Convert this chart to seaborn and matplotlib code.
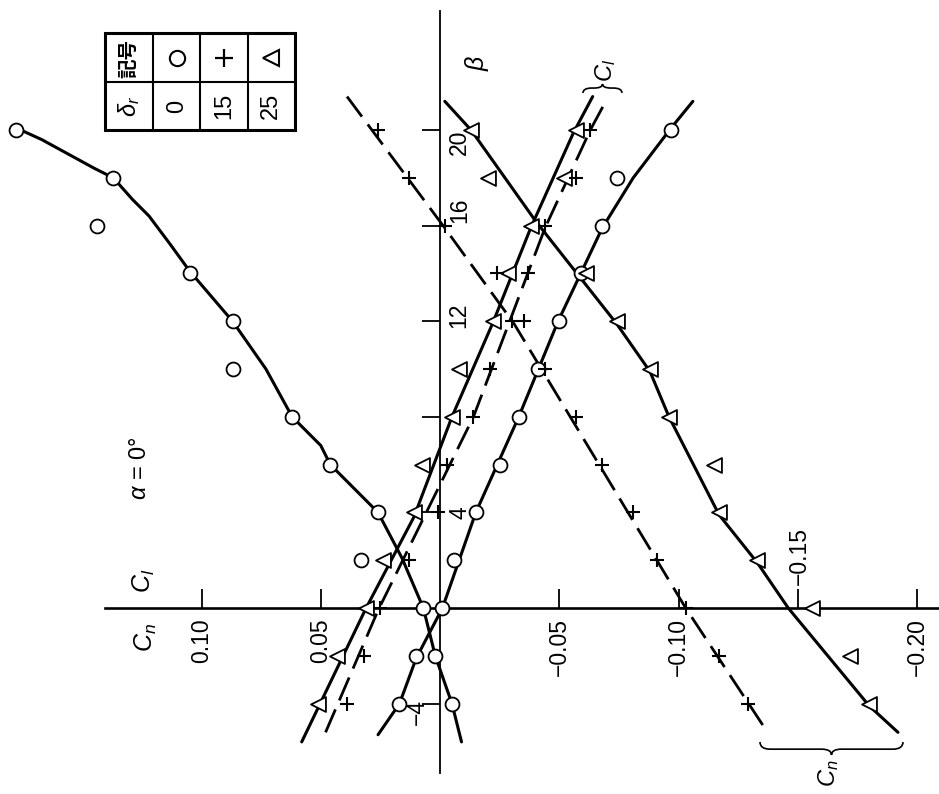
import matplotlib
matplotlib.use("Agg")
import matplotlib.pyplot as plt
import matplotlib.transforms as mtransforms
from matplotlib.path import Path
from matplotlib.patches import PathPatch, Rectangle
import seaborn as sns

# ---------------- measured points ----------------
# sideslip angle beta (deg) and yawing / rolling moment coefficients
beta_o = [-4, -2, 0, 2, 4, 6, 8, 10, 12, 14, 16, 18, 20]
cn_o = [-0.005, 0.002, 0.007, 0.033, 0.026, 0.046, 0.062, 0.087, 0.087, 0.105, 0.144, 0.137, 0.178]
cl_o = [0.017, 0.010, -0.001, -0.006, -0.015, -0.025, -0.033, -0.041, -0.050, -0.059, -0.068, -0.074, -0.097]

beta_p = [-4, -2, 0, 2, 4, 6, 8, 10, 12, 14, 16, 18, 20]
cn_p = [-0.129, -0.117, -0.103, -0.091, -0.081, -0.068, -0.057, -0.044, -0.030, -0.024, -0.002, 0.013, 0.026]
cl_p = [0.039, 0.032, 0.025, 0.013, 0.001, -0.003, -0.014, -0.021, -0.035, -0.037, -0.044, -0.057, -0.063]

beta_t_cn = [-4, -2, 0, 2, 4, 6, 8, 10, 12, 14, 18, 20]
cn_t = [-0.180, -0.172, -0.156, -0.133, -0.117, -0.115, -0.096, -0.088, -0.074, -0.061, -0.020, -0.013]
beta_t_cl = [-4, -2, 0, 2, 4, 6, 8, 10, 12, 14, 16, 18, 20]
cl_t = [0.051, 0.043, 0.031, 0.024, 0.011, 0.0075, -0.005, -0.008, -0.022, -0.0285, -0.038, -0.052, -0.057]

# ---------------- faired curves ----------------
fair_cn_o_beta = [20.1, 19.6, 19.0, 18.4, 18.0, 17.1, 16.4, 15.2, 14.1, 12.0, 10.0, 8.0, 6.8, 6.0, 4.0, 2.1, 0.0, -2.0, -4.0, -5.6]
fair_cn_o = [0.178, 0.167, 0.156, 0.145, 0.137, 0.129, 0.122, 0.113, 0.105, 0.087, 0.073, 0.062, 0.050, 0.046, 0.026, 0.016, 0.007, 0.002, -0.005, -0.009]

fair_cl_o_beta = [-5.3, -4.0, -2.1, 0.0, 4.0, 8.0, 12.0, 14.0, 15.9, 18.0, 20.1, 21.2]
fair_cl_o = [0.026, 0.017, 0.010, -0.001, -0.015, -0.033, -0.0495, -0.059, -0.068, -0.081, -0.097, -0.106]

fair_cn_p_beta = [21.4, 15.9, 11.9, 0.0, -5.0]
fair_cn_p = [0.039, -0.002, -0.031, -0.103, -0.136]

fair_cl_p_beta = [-5.2, -0.1, 8.0, 15.9, 20.0, 21.3]
fair_cl_p = [0.048, 0.026, -0.014, -0.044, -0.063, -0.070]

fair_cn_t_beta = [21.2, 20.0, 16.2, 11.9, 9.9, 8.0, 3.9, 1.9, 0.0, -4.1, -5.2]
fair_cn_t = [-0.002, -0.013, -0.040, -0.074, -0.088, -0.096, -0.117, -0.133, -0.146, -0.180, -0.192]

fair_cl_t_beta = [-5.6, 0.0, 3.8, 8.0, 11.9, 15.9, 19.9, 21.4]
fair_cl_t = [0.058, 0.031, 0.011, -0.005, -0.022, -0.038, -0.056, -0.064]

# ---------------- axis ticks and key ----------------
coef_ticks = [0.10, 0.05, -0.05, -0.10, -0.15, -0.20]
coef_ticklabels = ["0.10", "0.05", "\u22120.05", "\u22120.10", "\u22120.15", "\u22120.20"]
beta_ticks = [-4, 4, 8, 12, 16, 20]
beta_ticklabels = {-4: "\u22124", 4: "4", 12: "12", 16: "16", 20: "20"}
key_markers = ["o", "+", "<"]
key_deltas = ["0", "15", "25"]

# ---------------- style ----------------
sns.set_theme(style="white")
plt.rcParams["font.family"] = ["Liberation Sans Narrow", "Liberation Sans", "DejaVu Sans"]
plt.rcParams["mathtext.fontset"] = "custom"
plt.rcParams["mathtext.rm"] = "Liberation Sans"
plt.rcParams["mathtext.it"] = "Liberation Sans:italic"
plt.rcParams["text.color"] = "black"

W, H = 939, 794
fig = plt.figure(figsize=(W / 100, H / 100), dpi=100)
fig.patch.set_facecolor("white")
ax = fig.add_axes([0, 0, 1, 1])
ax.set_facecolor("white")

# coefficient runs right-to-left, beta bottom-to-top (page turned sideways)
ax.set_xlim(0.1845, -0.2092)
ax.set_ylim(-7.78, 25.44)

# pixel-space transform for annotation furniture
pix = mtransforms.Affine2D().scale(1 / W, -1 / H).translate(0, 1) + ax.transAxes

# axes through the origin
for s in ["top", "right"]:
    ax.spines[s].set_visible(False)
ax.spines["left"].set_position(("data", 0))
ax.spines["bottom"].set_position(("data", 0))
ax.spines["left"].set_bounds(-6.9, 25.0)
ax.spines["bottom"].set_bounds(-0.2092, 0.1405)
ax.spines["left"].set_linewidth(1.3)
ax.spines["bottom"].set_linewidth(1.9)
for s in ["left", "bottom"]:
    ax.spines[s].set_color("black")
    ax.spines[s].set_zorder(1)

ax.set_xticks(coef_ticks)
ax.set_yticks(beta_ticks)
ax.tick_params(axis="x", direction="in", length=14, width=1.3, color="black",
               bottom=True, labelbottom=False)
ax.tick_params(axis="y", direction="out", length=13, width=1.3, color="black",
               left=True, labelleft=False)
ax.grid(False)
ax.set_xlabel("")
ax.set_ylabel("")

# ---------------- faired curves ----------------
solid = dict(color="black", linewidth=2.2, sort=False, estimator=None, legend=False, ax=ax, zorder=2)
dashed = dict(solid, linewidth=2.0, linestyle=(0, (9, 3.5)))
sns.lineplot(x=fair_cn_o, y=fair_cn_o_beta, **solid)
sns.lineplot(x=fair_cl_o, y=fair_cl_o_beta, **solid)
sns.lineplot(x=fair_cn_t, y=fair_cn_t_beta, **solid)
sns.lineplot(x=fair_cl_t, y=fair_cl_t_beta, **solid)
sns.lineplot(x=fair_cn_p, y=fair_cn_p_beta, **dashed)
sns.lineplot(x=fair_cl_p, y=fair_cl_p_beta, **dashed)

# ---------------- measured points ----------------
open_kw = dict(color="white", edgecolor="black", linewidth=1.3, legend=False, ax=ax, zorder=4)
plus_kw = dict(color="black", linewidth=1.5, legend=False, ax=ax, zorder=4)
sns.scatterplot(x=cn_o, y=beta_o, marker="o", s=100, **open_kw)
sns.scatterplot(x=cl_o, y=beta_o, marker="o", s=100, **open_kw)
sns.scatterplot(x=cn_t, y=beta_t_cn, marker="<", s=115, **open_kw)
sns.scatterplot(x=cl_t, y=beta_t_cl, marker="<", s=115, **open_kw)
sns.scatterplot(x=cn_p, y=beta_p, marker="+", s=115, **plus_kw)
sns.scatterplot(x=cl_p, y=beta_p, marker="+", s=115, **plus_kw)

# ---------------- tick labels ----------------
tick_fs = 16.5
for v, lab in zip(coef_ticks, coef_ticklabels):
    if v == -0.15:
        ax.annotate(lab, xy=(v, 0), xytext=(2, 23), textcoords="offset pixels",
                    rotation=90, ha="center", va="bottom", fontsize=tick_fs)
    else:
        ax.annotate(lab, xy=(v, 0), xytext=(0, -10), textcoords="offset pixels",
                    rotation=90, ha="center", va="top", fontsize=tick_fs)

beta_label_offsets = {-4: (-23, -8), 4: (20, 0), 12: (19, 6), 16: (20, 15), 20: (19, -12)}
for b, lab in beta_ticklabels.items():
    ax.annotate(lab, xy=(0, b), xytext=beta_label_offsets[b], textcoords="offset pixels",
                rotation=90, ha="center", va="center", fontsize=tick_fs)

# ---------------- annotations ----------------
def ptext(x, y, s, fs=18, **kw):
    ax.text(x, y, s, transform=pix, rotation=90, ha="center", va="center",
            fontsize=fs, **kw)

ptext(144, 581, "$C_l$", fs=18)
ptext(146, 638, "$C_n$", fs=18)
ptext(140, 468, "$\\alpha$ = 0\u00b0", fs=17)
ptext(477, 63, "$\\beta$", fs=18)
ptext(606, 70, "$C_l$", fs=17)
ptext(829, 773, "$C_n$", fs=17)


def brace(x0, x1, y, depth, sign):
    """Horizontal curly brace in pixel space; sign=+1 points down, -1 up."""
    xm = 0.5 * (x0 + x1)
    yf = y + sign * depth * 0.55
    yt = y + sign * depth
    r = min(10, 0.22 * (x1 - x0))
    verts = [(x0, y), (x0, yf), (x0 + r, yf), (xm - r, yf), (xm, yf), (xm, yt),
             (xm, yf), (xm + r, yf), (x1 - r, yf), (x1, yf), (x1, y)]
    codes = [Path.MOVETO, Path.CURVE3, Path.CURVE3, Path.LINETO, Path.CURVE3, Path.CURVE3,
             Path.CURVE3, Path.CURVE3, Path.LINETO, Path.CURVE3, Path.CURVE3]
    ax.add_patch(PathPatch(Path(verts, codes), transform=pix, fill=False,
                           edgecolor="black", linewidth=1.2, zorder=3))


brace(760, 903, 742, 13, +1)
brace(583, 622, 93, 9, -1)

# ---------------- key table ----------------
tx0, tx1, ty0, ty1 = 105, 295, 33, 130
col_edges = [153, 200, 248]
row_edge = 82
ax.add_patch(Rectangle((tx0, ty0), tx1 - tx0, ty1 - ty0, transform=pix, fill=False,
                       edgecolor="black", linewidth=2.2, zorder=5))
for cx in col_edges:
    ax.plot([cx, cx], [ty0, ty1], transform=pix, color="black", linewidth=1.5, zorder=5)
ax.plot([tx0, tx1], [row_edge, row_edge], transform=pix, color="black", linewidth=1.5, zorder=5)

cell_x = [129, 177, 224, 271]
top_y, bot_y = 58, 106
ptext(cell_x[0], top_y, "記号", fs=14, family=["Noto Sans CJK JP"], weight="bold")
ptext(cell_x[0], bot_y, "$\\delta_r$", fs=17)
for cx, m, d in zip(cell_x[1:], key_markers, key_deltas):
    if m == "+":
        ax.plot([cx], [top_y], transform=pix, marker=m, markersize=13, color="black",
                markeredgewidth=1.6, zorder=6)
    else:
        ax.plot([cx], [top_y], transform=pix, marker=m, markersize=11, markerfacecolor="white",
                markeredgecolor="black", markeredgewidth=1.5, zorder=6)
    ptext(cx, bot_y, d, fs=17)

fig.savefig("out.png", dpi=100, facecolor="white")
